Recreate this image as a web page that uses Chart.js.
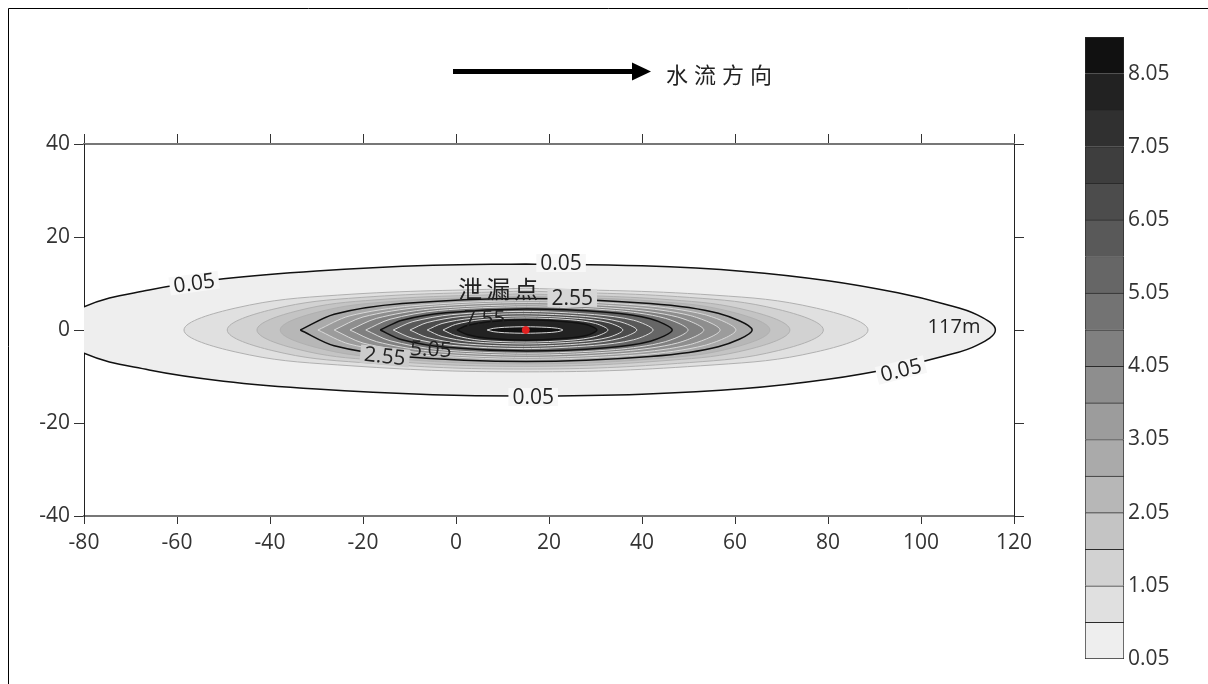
<!DOCTYPE html>
<html>
<head>
<meta charset="utf-8">
<script src="https://cdn.jsdelivr.net/npm/chart.js@4.4.1/dist/chart.umd.min.js"></script>
<style>
  html, body { margin: 0; padding: 0; background: #fff; }
  #wrap { position: relative; width: 1208px; height: 684px; overflow: hidden; }
  #main { position: absolute; left: 0; top: 0; }
  #bar { position: absolute; left: 1080px; top: 0; }
</style>
</head>
<body>
<div id="wrap">
  <canvas id="main" width="1208" height="684"></canvas>
  <canvas id="bar" width="128" height="684"></canvas>
</div>
<script>
// contour levels (concentration), one filled band above each level
const levels = [0.05, 0.55, 1.05, 1.55, 2.05, 2.55, 3.05, 3.55, 4.05, 4.55, 5.05, 5.55, 6.05, 6.55, 7.05, 7.55, 8.05];
const colorbarTop = 8.55;
const colorbarTicks = [0.05, 1.05, 2.05, 3.05, 4.05, 5.05, 6.05, 7.05, 8.05];
const majorLevels = [0.05, 2.55, 5.05, 7.55];
const xTickValues = [-80, -60, -40, -20, 0, 20, 40, 60, 80, 100, 120];
const yTickValues = [-40, -20, 0, 20, 40];
const leakPoint = [15, 0];

// upper half of every contour, [x, y] in metres (plume is symmetric about y = 0)
const contourUpper = [
  [[-86,0],[-80,5.0],[-66,8.6],[-50,11.0],[-30,12.7],[-5,13.9],[15,14.2],[40,13.8],[62,12.6],[80,10.6],[95,8.0],[105,5.6],[112,3.3],[116,0]],
  [[-58.5,0],[-47.5,4.7],[-25.5,7.5],[15,9.0],[55.5,7.5],[77.5,4.7],[88.6,0]],
  [[-49.2,0],[-39.6,4.4],[-20.4,7.0],[15,8.4],[50.2,7.0],[69.4,4.4],[79,0]],
  [[-42.8,0],[-34.2,4.1],[-17,6.5],[14.5,7.8],[46,6.5],[63.2,4.1],[71.8,0]],
  [[-37.8,0],[-29.9,3.8],[-14.1,6.1],[14.9,7.3],[43.8,6.1],[59.6,3.8],[67.5,0]],
  [[-33.5,0],[-26.2,3.4],[-11.6,5.7],[15.1,6.8],[41.8,5.7],[56.4,3.6],[63.7,0]],
  [[-29.7,0],[-23,3.0],[-9.5,5.2],[15.2,6.3],[40,5.3],[53.5,3.3],[60.2,0]],
  [[-26.2,0],[-20,2.8],[-7.5,4.9],[15.3,5.9],[38.1,4.9],[50.4,3.1],[56.8,0]],
  [[-22.8,0],[-17.1,2.5],[-5.7,4.5],[15.2,5.4],[36.2,4.5],[47.6,2.8],[53.3,0]],
  [[-19.4,0],[-14.2,2.3],[-3.8,4.2],[15.2,5.0],[34.3,4.2],[44.7,2.6],[49.9,0]],
  [[-16.3,0],[-11.6,2.1],[-2.2,3.7],[15.1,4.5],[32.4,3.8],[41.8,2.4],[46.5,0]],
  [[-13.5,0],[-9.3,1.8],[-0.9,3.3],[14.5,4.0],[29.8,3.3],[38.2,2.1],[42.4,0]],
  [[-9.9,0],[-6.2,1.6],[1.1,2.9],[14.5,3.5],[27.9,2.9],[35.2,1.8],[38.9,0]],
  [[-6.2,0],[-3.0,1.4],[3.3,2.5],[14.8,3.0],[26.4,2.5],[32.7,1.6],[35.9,0]],
  [[-2.8,0],[-0.1,1.2],[5.2,2.2],[15,2.6],[24.7,2.2],[30,1.4],[32.7,0]],
  [[0.2,0],[2.5,1.0],[7,1.8],[15.2,2.2],[23.5,1.8],[28,1.2],[30.3,0]],
  [[6.7,0],[8,0.35],[10.4,0.58],[14.9,0.7],[19.4,0.58],[21.8,0.37],[23,0]]
];

// grey ramp for the bands, light to dark
const bandColors = ['#eeeeee', '#e0e0e0', '#d2d2d2', '#c4c4c4', '#b7b7b7', '#aaaaaa', '#9c9c9c', '#8e8e8e',
  '#808080', '#737373', '#666666', '#595959', '#4c4c4c', '#3e3e3e', '#303030', '#222222', '#111111'];

// contour labels (text, x, y, rotation in degrees, background)
const contourLabels = [
  ['0.05', -56.3, 10.1, -8, '#f7f7f7'],
  ['0.05', 22.6, 14.4, 0, '#f7f7f7'],
  ['0.05', 16.6, -14.4, 0, '#f7f7f7'],
  ['0.05', 95.7, -8.6, -14, '#f7f7f7'],
  ['2.55', 25, 6.9, 0, '#d6d6d6'],
  ['2.55', -15.3, -5.6, 6, '#cccccc'],
  ['5.05', -5.4, -4.1, 3, null],
  ['7.55', 6.2, 2.4, 0, null]
];

Chart.defaults.font.family = "'Open Sans', 'DejaVu Sans', sans-serif";
Chart.defaults.color = '#333';

// close the upper/lower halves into one ring; rounded rings start at the top point,
// pointed ones at the upstream tip so the corner falls there
function ring(upper, pointed) {
  const lower = upper.slice(1, -1).reverse().map(p => [p[0], -p[1]]);
  const pts = upper.concat(lower);
  let start = 0;
  if (!pointed) pts.forEach((p, i) => { if (p[1] > pts[start][1]) start = i; });
  const r = pts.slice(start).concat(pts.slice(0, start + 1));
  return r.map(p => ({ x: p[0], y: p[1] }));
}

const datasets = levels.map((lv, i) => {
  const major = majorLevels.includes(lv);
  const inner = lv >= 2.55;
  return {
    data: ring(contourUpper[i], inner),
    showLine: true,
    fill: 'shape',
    backgroundColor: bandColors[i],
    borderColor: major ? '#111' : (inner ? '#d9d9d9' : '#b0b0b0'),
    borderWidth: major ? 1.5 : 1,
    pointRadius: 0,
    pointHoverRadius: 0,
    tension: inner ? 0.3 : 0.4,
    order: levels.length - i + 1
  };
});
datasets.push({
  data: [{ x: leakPoint[0], y: leakPoint[1] }],
  pointRadius: 3.5,
  backgroundColor: '#e02020',
  borderColor: '#e02020',
  order: 0
});

const tickFont = { size: 21 };

const overlay = {
  id: 'overlay',
  afterDatasetsDraw(chart) {
    const ctx = chart.ctx;
    const xs = chart.scales.x, ys = chart.scales.y;
    ctx.save();
    ctx.beginPath();
    ctx.rect(chart.chartArea.left, chart.chartArea.top, chart.chartArea.width, chart.chartArea.height);
    ctx.clip();
    ctx.font = "21px 'Open Sans'";
    ctx.textAlign = 'center';
    ctx.textBaseline = 'middle';
    contourLabels.forEach(([t, x, y, rot, bg]) => {
      ctx.save();
      ctx.translate(xs.getPixelForValue(x), ys.getPixelForValue(y));
      ctx.rotate(rot * Math.PI / 180);
      const w = ctx.measureText(t).width;
      if (bg) {
        ctx.fillStyle = bg;
        ctx.fillRect(-w / 2 - 4, -9, w + 8, 18);
      }
      ctx.fillStyle = '#222';
      ctx.fillText(t, 0, 1);
      ctx.restore();
    });

    ctx.fillStyle = '#222';
    ctx.font = "24px 'Noto Sans CJK SC'";
    ctx.letterSpacing = '4px';
    ctx.fillText('泄漏点', xs.getPixelForValue(9.5), ys.getPixelForValue(8.9));
    ctx.letterSpacing = '0px';
    ctx.font = "20px 'Open Sans'";
    ctx.fillText('117m', xs.getPixelForValue(107.1), ys.getPixelForValue(0.6));
    ctx.restore();
  },
  afterDraw(chart) {
    const ctx = chart.ctx;
    ctx.save();
    // flow direction arrow
    ctx.strokeStyle = '#000';
    ctx.lineWidth = 5;
    ctx.beginPath();
    ctx.moveTo(453, 71.5);
    ctx.lineTo(636, 71.5);
    ctx.stroke();
    ctx.fillStyle = '#000';
    ctx.beginPath();
    ctx.moveTo(632, 62.5);
    ctx.lineTo(651, 71.5);
    ctx.lineTo(632, 80.5);
    ctx.closePath();
    ctx.fill();
    ctx.fillStyle = '#222';
    ctx.font = "22px 'Noto Sans CJK SC'";
    ctx.letterSpacing = '6px';
    ctx.textAlign = 'left';
    ctx.textBaseline = 'middle';
    ctx.fillText('水流方向', 666, 75);
    ctx.letterSpacing = '0px';
    // outer frame
    ctx.strokeStyle = '#000';
    ctx.lineWidth = 1;
    ctx.beginPath();
    ctx.moveTo(8.5, 684);
    ctx.lineTo(8.5, 8.5);
    ctx.lineTo(1208, 8.5);
    ctx.stroke();
    ctx.restore();
  }
};

function axis(pos, min, max, values, fit, labels) {
  const horizontal = pos === 'top' || pos === 'bottom';
  return {
    type: 'linear',
    position: pos,
    min: min,
    max: max,
    afterBuildTicks: s => { s.ticks = values.map(v => ({ value: v })); },
    afterFit: s => { if (horizontal) s.height = fit; else s.width = fit; },
    grid: { display: true, drawOnChartArea: false, drawTicks: true, tickLength: pos === 'bottom' ? 8 : 10, color: '#333', lineWidth: 1 },
    border: { display: true, color: horizontal ? '#777' : '#222', width: horizontal ? 2 : 1 },
    ticks: { display: labels, color: '#333', font: tickFont, padding: horizontal ? 6 : 4, maxRotation: 0 }
  };
}

new Chart(document.getElementById('main'), {
  type: 'scatter',
  data: { datasets: datasets },
  options: {
    responsive: false,
    animation: false,
    devicePixelRatio: 1,
    events: [],
    layout: { padding: { left: 0, right: 182, top: 132, bottom: 0 } },
    plugins: { legend: { display: false }, tooltip: { enabled: false } },
    scales: {
      x: axis('bottom', -80, 120, xTickValues, 168, true),
      x2: axis('top', -80, 120, xTickValues, 12, false),
      y: axis('left', -40, 40, yTickValues, 84, true),
      y2: axis('right', -40, 40, yTickValues, 12, false)
    }
  },
  plugins: [overlay]
});

// colour bar: one floating bar per band
const barSets = levels.map((lv, i) => ({
  data: [[lv, i + 1 < levels.length ? levels[i + 1] : colorbarTop]],
  backgroundColor: bandColors[i],
  borderColor: '#2a2a2a',
  borderWidth: { top: 1, left: 1, right: 1, bottom: i === 0 ? 1 : 0 },
  borderSkipped: false,
  grouped: false,
  barPercentage: 1,
  categoryPercentage: 1
}));

new Chart(document.getElementById('bar'), {
  type: 'bar',
  data: { labels: [''], datasets: barSets },
  options: {
    responsive: false,
    animation: false,
    devicePixelRatio: 1,
    events: [],
    layout: { padding: { left: 5, right: 0, top: 37, bottom: 25 } },
    plugins: { legend: { display: false }, tooltip: { enabled: false } },
    scales: {
      x: { display: false },
      y: {
        position: 'right',
        min: levels[0],
        max: colorbarTop,
        afterBuildTicks: s => { s.ticks = colorbarTicks.map(v => ({ value: v })); },
        afterFit: s => { s.width = 84; },
        grid: { display: false, drawTicks: false },
        border: { display: false },
        ticks: { color: '#333', font: { size: 21 }, padding: 4, callback: v => v.toFixed(2) }
      }
    }
  }
});
</script>
</body>
</html>
